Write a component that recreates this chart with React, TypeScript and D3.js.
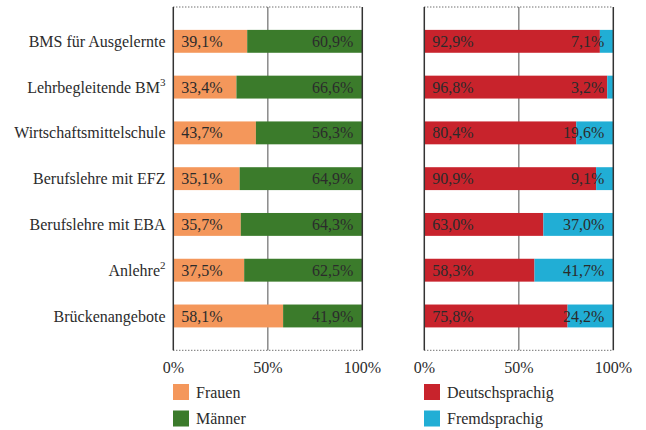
import React from "react";
import * as d3 from "d3";

const categories = [
  "BMS für Ausgelernte",
  "Lehrbegleitende BM",
  "Wirtschaftsmittelschule",
  "Berufslehre mit EFZ",
  "Berufslehre mit EBA",
  "Anlehre",
  "Brückenangebote",
];
const superscripts = ["", "3", "", "", "", "2", ""];
const frauen = [39.1, 33.4, 43.7, 35.1, 35.7, 37.5, 58.1];
const maenner = [60.9, 66.6, 56.3, 64.9, 64.3, 62.5, 41.9];
const deutsch = [92.9, 96.8, 80.4, 90.9, 63.0, 58.3, 75.8];
const fremd = [7.1, 3.2, 19.6, 9.1, 37.0, 41.7, 24.2];
const ticks = [0, 50, 100];
const tickLabels = ["0%", "50%", "100%"];

const FONT = '"Liberation Serif", serif';
const TEXT = "#2b2b2b";
const FS = 16;
const tStyle = { fontFamily: FONT };

const fmt = (v: number) => v.toFixed(1).replace(".", ",") + "%";

function Panel({
  x0,
  a,
  b,
  colA,
  colB,
  y,
}: {
  x0: number;
  a: number[];
  b: number[];
  colA: string;
  colB: string;
  y: d3.ScaleBand<string>;
}) {
  const x = d3.scaleLinear().domain([0, 100]).range([x0, x0 + 189]);
  const [top, bottom] = y.range();
  return (
    <g>
      <line x1={x(50)} x2={x(50)} y1={top} y2={bottom} stroke="#8a8a8a" strokeWidth={1.5} />
      {categories.map((c, i) => (
        <g key={c}>
          <rect x={x(0)} y={y(c)} width={x(a[i]) - x(0)} height={y.bandwidth()} fill={colA} />
          <rect x={x(a[i])} y={y(c)} width={x(100) - x(a[i])} height={y.bandwidth()} fill={colB} />
        </g>
      ))}
      <line x1={x(0)} x2={x(100)} y1={top} y2={top} stroke="#333" strokeWidth={1} strokeDasharray="1,2" />
      <line x1={x(0)} x2={x(100)} y1={bottom} y2={bottom} stroke="#333" strokeWidth={1} strokeDasharray="1,2" />
      <line x1={x(0)} x2={x(0)} y1={top} y2={bottom} stroke="#333" strokeWidth={1.5} />
      <line x1={x(100)} x2={x(100)} y1={top} y2={bottom} stroke="#333" strokeWidth={1.5} />
      {categories.map((c, i) => {
        const cy = (y(c) as number) + y.bandwidth() / 2;
        return (
          <g key={c + "t"}>
            <text x={x(0) + 8} y={cy} dy="0.35em" fontSize={FS} fill={TEXT} style={tStyle}>
              {fmt(a[i])}
            </text>
            <text x={x(100) - 9} y={cy} dy="0.35em" textAnchor="end" fontSize={FS} fill={TEXT} style={tStyle}>
              {fmt(b[i])}
            </text>
          </g>
        );
      })}
      {ticks.map((t, i) => (
        <text key={t} x={x(t)} y={367} dy="0.35em" textAnchor="middle" fontSize={FS} fill={TEXT} style={tStyle}>
          {tickLabels[i]}
        </text>
      ))}
    </g>
  );
}

export default function App() {
  const y = d3
    .scaleBand<string>()
    .domain(categories)
    .range([7, 350.3])
    .paddingInner(0.5)
    .paddingOuter(0.5);

  const legend = [
    { x: 173, y: 384, c: "#F4975B", t: "Frauen" },
    { x: 173, y: 410.5, c: "#3B7B2B", t: "Männer" },
    { x: 424, y: 384, c: "#C8232C", t: "Deutschsprachig" },
    { x: 424, y: 410.5, c: "#21AED5", t: "Fremdsprachig" },
  ];

  return (
    <svg width={646} height={430} style={{ position: "absolute", left: 0, top: 0, background: "#fff" }}>
      {categories.map((c, i) => (
        <text
          key={c}
          x={165.5}
          y={(y(c) as number) + y.bandwidth() / 2}
          dy="0.35em"
          textAnchor="end"
          fontSize={FS}
          fill={TEXT}
          style={tStyle}
        >
          {c}
          {superscripts[i] && (
            <tspan fontSize={11} dy="-0.6em">
              {superscripts[i]}
            </tspan>
          )}
        </text>
      ))}
      <Panel x0={173.3} a={frauen} b={maenner} colA="#F4975B" colB="#3B7B2B" y={y} />
      <Panel x0={424.3} a={deutsch} b={fremd} colA="#C8232C" colB="#21AED5" y={y} />
      {legend.map((l) => (
        <g key={l.t}>
          <rect x={l.x} y={l.y} width={16} height={16} fill={l.c} />
          <text x={l.x + 23} y={l.y + 8} dy="0.35em" fontSize={FS} fill={TEXT} style={tStyle}>
            {l.t}
          </text>
        </g>
      ))}
    </svg>
  );
}
